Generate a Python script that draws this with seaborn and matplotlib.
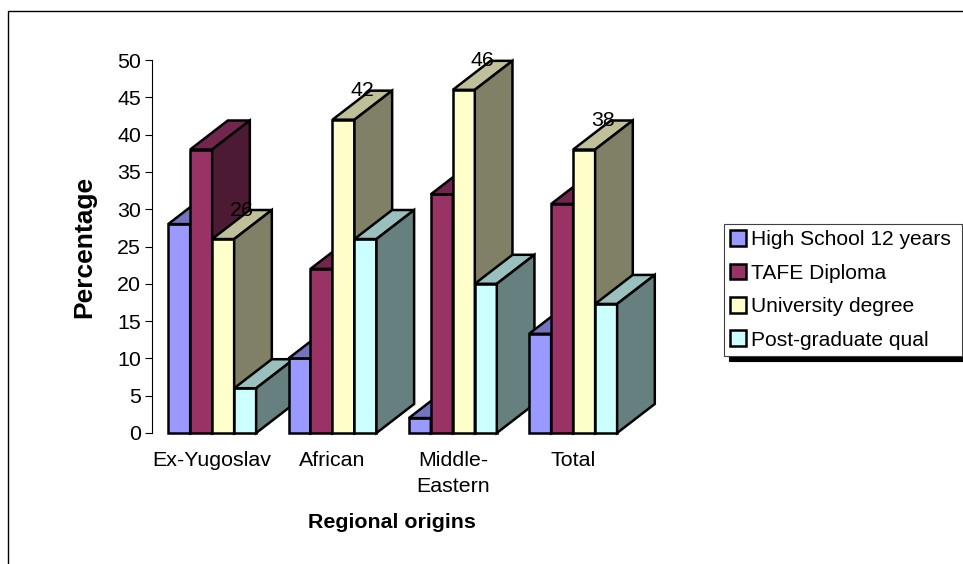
import matplotlib
matplotlib.use("Agg")
import matplotlib.pyplot as plt
from matplotlib.patches import Patch, Polygon
from matplotlib.lines import Line2D
import pandas as pd
import seaborn as sns

origins = ["Ex-Yugoslav", "African", "Middle-\nEastern", "Total"]
qualifications = ["High School 12 years", "TAFE Diploma", "University degree", "Post-graduate qual"]
high_school = [28, 10, 2, 13.3]
tafe = [38, 22, 32, 30.7]
university = [26, 42, 46, 38]
post_graduate = [6, 26, 20, 17.3]
colors = ["#9999FF", "#993366", "#FFFFCC", "#CCFFFF"]

W, H = 963, 564
EDGE = 1.8
LABEL_SIZE = 15.4
sns.set_theme(style="white")
plt.rcParams["font.family"] = ["Liberation Sans", "DejaVu Sans"]

df = pd.DataFrame({
    "origin": origins * 4,
    "qualification": [q for q in qualifications for _ in origins],
    "pct": high_school + tafe + university + post_graduate,
})

fig = plt.figure(figsize=(W / 100, H / 100), dpi=100, facecolor="white")
# axes run from the y axis line across four category slots
ax = fig.add_axes([152 / W, 1 - 433 / H, 481.3 / W, 373 / H])
sns.barplot(data=df, x="origin", y="pct", hue="qualification", order=origins,
            hue_order=qualifications, palette=colors, width=0.731, gap=0,
            saturation=1, legend=False, ax=ax, edgecolor="black", linewidth=EDGE)
ax.set_xlim(-0.5, 3.5)
ax.set_ylim(0, 50)

# oblique depth of the extruded columns, in data units
depth_x = 0.313
depth_y = 3.89


def shade(hex_color, factor):
    r, g, b = matplotlib.colors.to_rgb(hex_color)
    return (r * factor, g * factor, b * factor)


for s, container in enumerate(ax.containers):
    for g, bar in enumerate(container):
        z = 3 + g * len(qualifications) + s
        x0, x1 = bar.get_x(), bar.get_x() + bar.get_width()
        top = bar.get_height()
        bar.set_zorder(z)
        bar.set_clip_on(False)
        bar.set_joinstyle("miter")
        ax.add_patch(Polygon(
            [(x0, top), (x1, top), (x1 + depth_x, top + depth_y), (x0 + depth_x, top + depth_y)],
            closed=True, facecolor=shade(colors[s], 0.75), edgecolor="black",
            linewidth=EDGE, zorder=z + 0.1, clip_on=False, joinstyle="miter"))
        ax.add_patch(Polygon(
            [(x1, 0), (x1 + depth_x, depth_y), (x1 + depth_x, top + depth_y), (x1, top)],
            closed=True, facecolor=shade(colors[s], 0.5), edgecolor="black",
            linewidth=EDGE, zorder=z + 0.2, clip_on=False, joinstyle="miter"))

# value labels for the university series sit on the rear edge of each column top
for bar, value in zip(ax.containers[2], university):
    ax.text(bar.get_x() + bar.get_width() / 2 + depth_x / 2, value + depth_y, f"{value:g}",
            ha="center", va="center", fontsize=LABEL_SIZE, color="black", zorder=100)

for side in ("top", "right", "bottom"):
    ax.spines[side].set_visible(False)
ax.spines["left"].set_color("black")
ax.spines["left"].set_linewidth(0.8)
ax.set_yticks(range(0, 51, 5))
ax.tick_params(axis="y", left=True, length=5, width=0.8, color="black", labelsize=LABEL_SIZE,
               pad=3, labelcolor="black")
ax.tick_params(axis="x", bottom=False, labelsize=LABEL_SIZE, pad=7, labelcolor="black")
for label in ax.get_xticklabels():
    label.set_linespacing(1.45)
ax.set_xlabel("")
ax.set_ylabel("")

fig.text(84 / W, 1 - 247 / H, "Percentage", rotation=90, ha="center", va="center",
         fontsize=19, fontweight="bold", color="black")
fig.text(392 / W, 1 - 523 / H, "Regional origins", ha="center", va="center",
         fontsize=15.4, fontweight="bold", color="black")

handles = [Patch(facecolor=c, edgecolor="black", linewidth=EDGE) for c in colors]
leg = ax.legend(handles, qualifications, loc="upper left", mode="expand",
                bbox_to_anchor=(724 / W, 1 - 358 / H, 238 / W, 134 / H),
                bbox_transform=fig.transFigure,
                borderaxespad=0, fontsize=15.1, fancybox=False, framealpha=1,
                edgecolor="#404040", borderpad=0.3, labelspacing=0.68,
                handlelength=0.77, handleheight=0.77, handletextpad=0.2,
                labelcolor="black",
                shadow={"color": "black", "alpha": 1, "ox": 3.6, "oy": -3.6})
leg.get_frame().set_linewidth(0.8)
leg.set_zorder(200)

# chart-area border: left and top edges only reach the canvas
fig.add_artist(Line2D([8 / W, 8 / W, 1], [0, 1 - 10.5 / H, 1 - 10.5 / H],
                      transform=fig.transFigure, color="black", linewidth=1.0))

fig.savefig("out.png", dpi=100)
